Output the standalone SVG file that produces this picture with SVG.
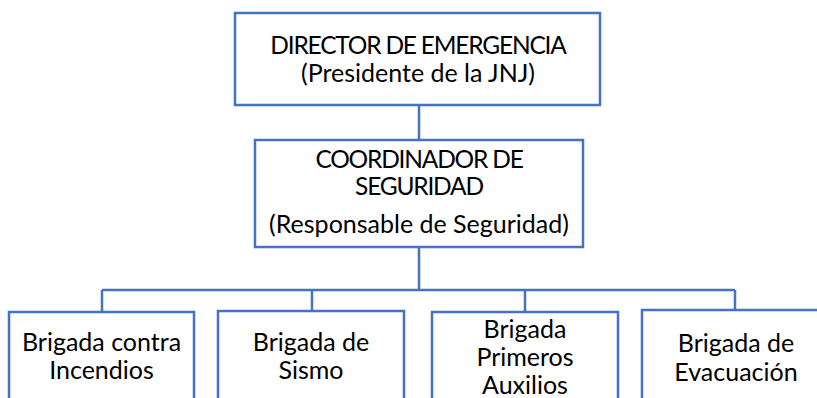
<svg xmlns="http://www.w3.org/2000/svg" width="817" height="398" viewBox="0 0 817 398">
<style>
.box{fill:#ffffff;stroke:#4472C4;stroke-width:2.5}
.ln{fill:none;stroke:#4472C4;stroke-width:2.5}
text{font-family:Lato,"Open Sans","Liberation Sans",sans-serif;font-size:25px;fill:#000000;text-anchor:middle}
.cap{font-size:24.5px;letter-spacing:-1.2px}
</style>
<rect width="817" height="398" fill="#ffffff"/>
<g id="connectors">
<path class="ln" d="M419 105V140M419 247V290M102 290H735M102 290V312M312 290V311M525 290V312M735 290V310"/>
</g>
<g id="director">
<rect class="box" x="235" y="13" width="365" height="92"/>
<text class="cap" x="418" y="54">DIRECTOR DE EMERGENCIA</text>
<text x="418" y="81.5">(Presidente de la JNJ)</text>
</g>
<g id="coordinador">
<rect class="box" x="255" y="140" width="328" height="107"/>
<text class="cap" x="419" y="168">COORDINADOR DE</text>
<text class="cap" x="419" y="195">SEGURIDAD</text>
<text x="419" y="233">(Responsable de Seguridad)</text>
</g>
<g id="incendios">
<rect class="box" x="9" y="312" width="185" height="100"/>
<text x="101.5" y="351">Brigada contra</text>
<text x="101.5" y="379">Incendios</text>
</g>
<g id="sismo">
<rect class="box" x="218" y="311" width="186" height="100"/>
<text x="311" y="351">Brigada de</text>
<text x="311" y="379">Sismo</text>
</g>
<g id="primeros">
<rect class="box" x="432" y="312" width="186" height="100"/>
<text x="525" y="338">Brigada</text>
<text x="525" y="366">Primeros</text>
<text x="525" y="394">Auxilios</text>
</g>
<g id="evacuacion">
<rect class="box" x="642" y="310" width="186" height="100"/>
<text x="736" y="352">Brigada de</text>
<text x="736" y="381">Evacuación</text>
</g>
</svg>
